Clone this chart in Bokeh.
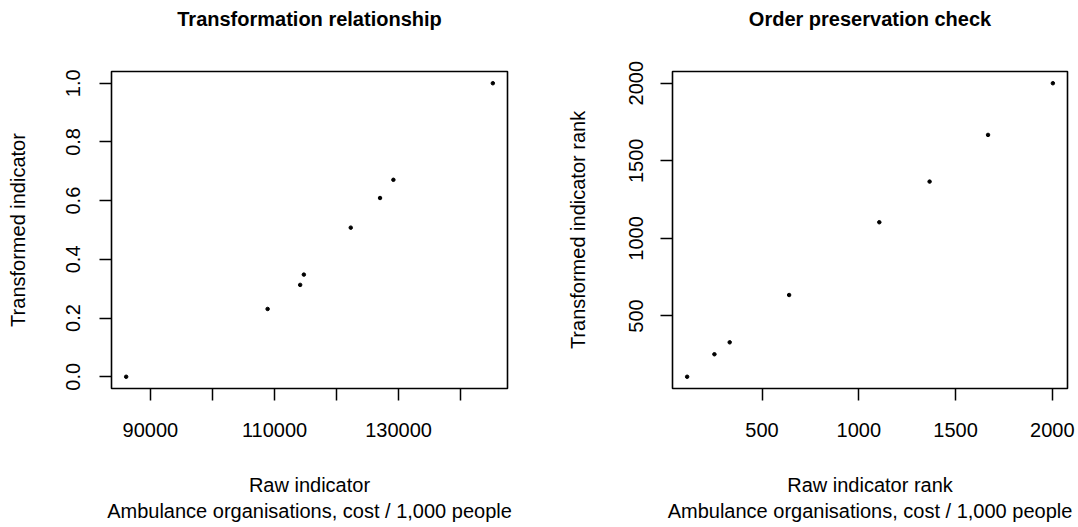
from bokeh.plotting import figure
from bokeh.layouts import row
from bokeh.models import Range1d, FixedTicker, Title
from bokeh.embed import file_html
from bokeh.resources import INLINE

# Data
raw_values = [86090, 108890, 114135, 114730, 122290, 127010, 129160, 145190]
transformed_values = [0.0, 0.231, 0.313, 0.348, 0.508, 0.609, 0.671, 1.0]
raw_rank = [113, 254, 333, 640, 1106, 1366, 1668, 2003]
transformed_rank = [108, 253, 330, 635, 1104, 1366, 1667, 2000]

left_xticks = [90000, 100000, 110000, 120000, 130000, 140000]
left_xlabels = {90000: "90000", 100000: "", 110000: "110000", 120000: "", 130000: "130000", 140000: ""}
left_yticks = [0.0, 0.2, 0.4, 0.6, 0.8, 1.0]
left_ylabels = {0.0: "0.0", 0.2: "0.2", 0.4: "0.4", 0.6: "0.6", 0.8: "0.8", 1.0: "1.0"}
right_ticks = [500, 1000, 1500, 2000]

titles = ["Transformation relationship", "Order preservation check"]

FONT = "Liberation Sans"
FS = "20px"


def pad(vals):
    lo, hi = min(vals), max(vals)
    d = (hi - lo) * 0.04
    return Range1d(lo - d, hi + d)


def style(p, title, xlab, ylab, ylab_standoff):
    p.outline_line_color = "black"
    p.outline_line_width = 1.6
    p.outline_line_alpha = 1.0
    p.xgrid.visible = False
    p.ygrid.visible = False
    p.background_fill_color = "white"
    p.border_fill_color = "white"
    # spacer between the frame and the title
    p.add_layout(Title(text=" ", text_font_size="1px", standoff=34), "above")
    p.add_layout(Title(text=title, text_font=FONT, text_font_size="20px",
                       text_font_style="bold", text_color="black",
                       align="center", standoff=10), "above")
    for ax in (p.xaxis[0], p.yaxis[0]):
        ax.axis_line_color = None
        ax.major_tick_line_color = "black"
        ax.major_tick_line_width = 1.5
        ax.major_tick_in = 0
        ax.major_tick_out = 12
        ax.minor_tick_line_color = None
        ax.major_label_text_font = FONT
        ax.major_label_text_font_size = FS
        ax.major_label_text_color = "black"
        ax.axis_label_text_font = FONT
        ax.axis_label_text_font_size = FS
        ax.axis_label_text_font_style = "normal"
        ax.axis_label_text_color = "black"
    p.xaxis[0].axis_label = xlab
    p.xaxis[0].major_label_standoff = 22
    p.xaxis[0].axis_label_standoff = 34
    p.yaxis[0].axis_label = ylab
    p.yaxis[0].major_label_orientation = "vertical"
    p.yaxis[0].major_label_standoff = 19
    p.yaxis[0].axis_label_standoff = ylab_standoff


p1 = figure(width=539, height=527, output_backend="svg", toolbar_location=None,
            x_range=pad(raw_values), y_range=pad(transformed_values),
            min_border_left=111, min_border_right=32, min_border_top=71, min_border_bottom=139)
p1.scatter(raw_values, transformed_values, size=3.5, color="black")
style(p1, titles[0], "Raw indicator\nAmbulance organisations, cost / 1,000 people", "Transformed indicator", 35)
p1.xaxis[0].ticker = FixedTicker(ticks=left_xticks)
p1.xaxis[0].major_label_overrides = left_xlabels
p1.yaxis[0].ticker = FixedTicker(ticks=left_yticks)
p1.yaxis[0].major_label_overrides = left_ylabels

p2 = figure(width=539, height=527, output_backend="svg", toolbar_location=None,
            x_range=pad(raw_rank), y_range=pad(transformed_rank),
            min_border_left=133, min_border_right=11, min_border_top=71, min_border_bottom=139)
p2.scatter(raw_rank, transformed_rank, size=3.5, color="black")
style(p2, titles[1], "Raw indicator rank\nAmbulance organisations, cost / 1,000 people", "Transformed indicator rank", 38)
p2.yaxis[0].major_label_standoff = 17
p2.xaxis[0].ticker = FixedTicker(ticks=right_ticks)
p2.yaxis[0].ticker = FixedTicker(ticks=right_ticks)

layout = row(p1, p2)
open("out.html", "w").write(file_html(layout, INLINE))
